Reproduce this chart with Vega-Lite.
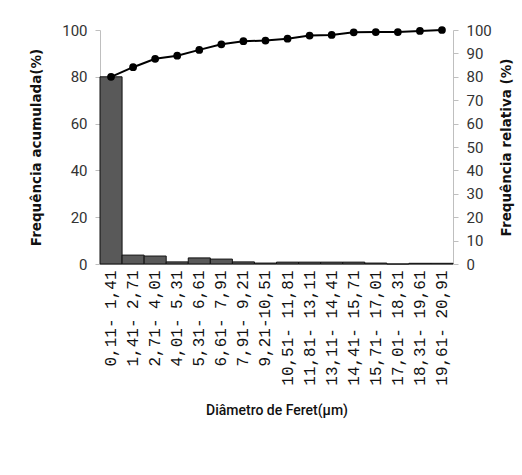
{
  "$schema": "https://vega.github.io/schema/vega-lite/v6.json",
  "autosize": "none",
  "width": 353,
  "height": 234,
  "padding": {"left": 100, "top": 30, "right": 69, "bottom": 211},
  "background": "white",
  "config": {"view": {"stroke": null}},
  "data": {
    "values": [
      {"classe": "0,11- 1,41", "rel": 80, "acum": 80},
      {"classe": "1,41- 2,71", "rel": 3.8, "acum": 84.1},
      {"classe": "2,71- 4,01", "rel": 3.4, "acum": 87.7},
      {"classe": "4,01- 5,31", "rel": 0.9, "acum": 89},
      {"classe": "5,31- 6,61", "rel": 2.6, "acum": 91.5},
      {"classe": "6,61- 7,91", "rel": 2.1, "acum": 93.9},
      {"classe": "7,91- 9,21", "rel": 0.9, "acum": 95.2},
      {"classe": "9,21-10,51", "rel": 0.4, "acum": 95.5},
      {"classe": "10,51- 11,81", "rel": 0.8, "acum": 96.3},
      {"classe": "11,81- 13,11", "rel": 0.8, "acum": 97.6},
      {"classe": "13,11- 14,41", "rel": 0.8, "acum": 97.9},
      {"classe": "14,41- 15,71", "rel": 0.8, "acum": 99},
      {"classe": "15,71- 17,01", "rel": 0.4, "acum": 99.1},
      {"classe": "17,01- 18,31", "rel": 0, "acum": 99.1},
      {"classe": "18,31- 19,61", "rel": 0.3, "acum": 99.6},
      {"classe": "19,61- 20,91", "rel": 0.3, "acum": 100}
    ]
  },
  "encoding": {
    "x": {
      "field": "classe",
      "type": "nominal",
      "sort": null,
      "scale": {"paddingInner": 0, "paddingOuter": 0},
      "axis": {
        "title": "Diâmetro de Feret(µm)",
        "titleFont": "Roboto",
        "titleFontSize": 14,
        "titleFontWeight": 500,
        "titleColor": "#111",
        "titlePadding": 18,
        "labelAngle": -90,
        "labelFont": "Liberation Mono",
        "labelFontSize": 16,
        "labelColor": "#111",
        "labelPadding": 6,
        "ticks": false,
        "domainColor": "#bfbfbf",
        "grid": false
      }
    }
  },
  "layer": [
    {
      "mark": {"type": "bar", "fill": "#595959", "stroke": "#111", "strokeWidth": 1},
      "encoding": {
        "y": {
          "field": "rel",
          "type": "quantitative",
          "scale": {"domain": [0, 100]},
          "axis": {
            "title": "Frequência acumulada(%)",
            "titleFont": "DejaVu Sans",
            "titleFontSize": 13.5,
            "titleFontWeight": "bold",
            "titleColor": "#111",
            "titlePadding": 18,
            "values": [0, 20, 40, 60, 80, 100],
            "labelFont": "Roboto",
            "labelFontSize": 15,
            "labelColor": "#333",
            "labelPadding": 8,
            "tickSize": 5,
            "tickColor": "#bfbfbf",
            "domainColor": "#bfbfbf",
            "grid": false
          }
        }
      }
    },
    {
      "mark": {"type": "line", "color": "#000", "strokeWidth": 2, "point": {"filled": true, "size": 60, "color": "#000"}},
      "encoding": {
        "y": {
          "field": "acum",
          "type": "quantitative",
          "scale": {"domain": [0, 100]},
          "axis": {
            "orient": "right",
            "title": "Frequência relativa (%)",
            "titleFont": "DejaVu Sans",
            "titleFontSize": 13.5,
            "titleFontWeight": "bold",
            "titleColor": "#111",
            "titleAngle": 270,
            "titleBaseline": "top",
            "titlePadding": 8,
            "values": [0, 10, 20, 30, 40, 50, 60, 70, 80, 90, 100],
            "labelFont": "Roboto",
            "labelFontSize": 15,
            "labelColor": "#333",
            "labelPadding": 8,
            "tickSize": 5,
            "tickColor": "#bfbfbf",
            "domainColor": "#bfbfbf",
            "grid": false
          }
        }
      }
    }
  ],
  "resolve": {"scale": {"y": "independent"}}
}
